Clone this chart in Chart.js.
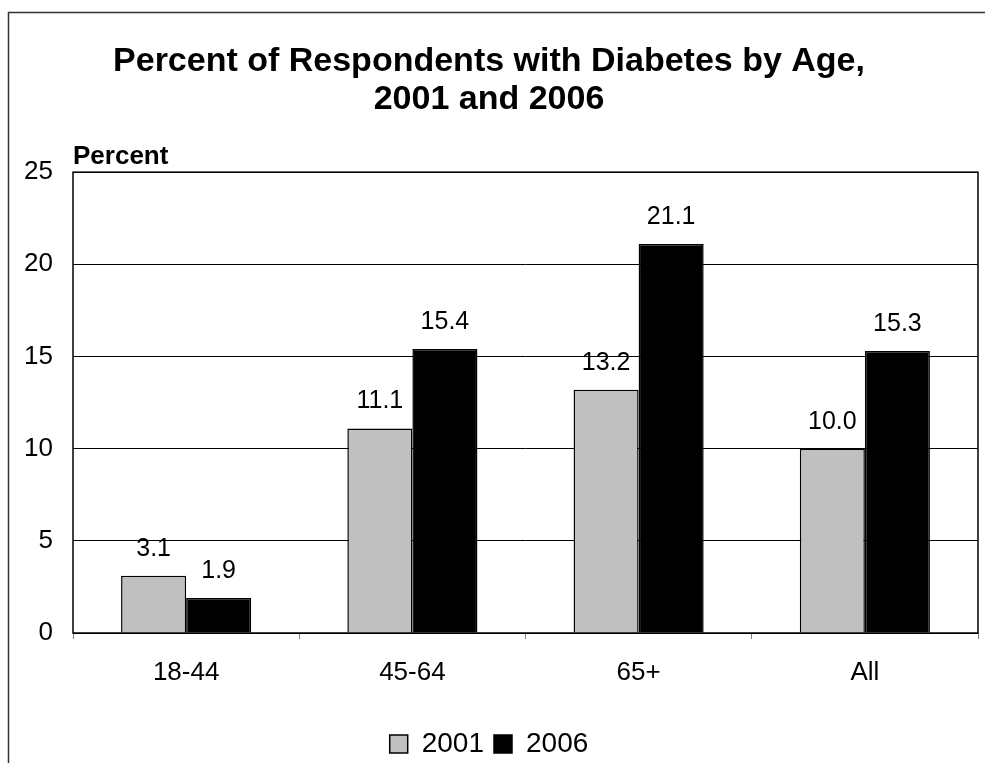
<!DOCTYPE html>
<html>
<head>
<meta charset="utf-8">
<script src="https://cdn.jsdelivr.net/npm/chart.js@4.4.1/dist/chart.umd.min.js"></script>
<style>
  body { margin: 0; background: #fff; }
  #wrap { width: 985px; height: 763px; position: relative; }
</style>
</head>
<body>
<div id="wrap"><canvas id="diabetesChart"></canvas></div>
<script>
const categories = ['18-44', '45-64', '65+', 'All'];
const values2001 = [3.1, 11.1, 13.2, 10.0];
const values2006 = [1.9, 15.4, 21.1, 15.3];
const seriesNames = ['2001', '2006'];
const titleLines = ['Percent of Respondents with Diabetes by Age,', '2001 and 2006'];
const yLabel = 'Percent';

const FONT = "'Liberation Sans', Arial, sans-serif";

// frame + plot border
const framePlugin = {
  id: 'frame',
  beforeDraw(chart) {
    const c = chart.ctx;
    c.save();
    c.fillStyle = '#fff';
    c.fillRect(0, 0, chart.width, chart.height);
    c.strokeStyle = '#333';
    c.lineWidth = 1.5;
    c.strokeRect(8.5, 12.5, chart.width + 20, chart.height + 20);
    c.restore();
  },
  afterDatasetsDraw(chart) {
    const a = chart.chartArea;
    const c = chart.ctx;
    c.save();
    c.strokeStyle = '#000';
    c.lineWidth = 1.5;
    c.strokeRect(a.left, a.top, a.right - a.left, a.bottom - a.top);
    // "Percent" label above the axis
    c.font = 'bold 26px ' + FONT;
    c.fillStyle = '#000';
    c.textAlign = 'left';
    c.textBaseline = 'alphabetic';
    c.fillText(yLabel, a.left, a.top - 8);
    c.restore();
  }
};

// value labels over bars
const valueLabels = {
  id: 'valueLabels',
  afterDatasetsDraw(chart) {
    const c = chart.ctx;
    c.save();
    c.font = '25px ' + FONT;
    c.fillStyle = '#000';
    c.textAlign = 'center';
    c.textBaseline = 'alphabetic';
    chart.data.datasets.forEach(function (ds, i) {
      chart.getDatasetMeta(i).data.forEach(function (bar, j) {
        c.fillText(ds.data[j].toFixed(1), bar.x, bar.y - 20);
      });
    });
    c.restore();
  }
};

const data = {
  labels: categories,
  datasets: [
    {
      label: seriesNames[0],
      data: values2001,
      backgroundColor: '#C0C0C0',
      borderColor: '#000',
      borderWidth: 1.5
    },
    {
      label: seriesNames[1],
      data: values2006,
      backgroundColor: '#000',
      borderColor: '#000',
      borderWidth: 1.5
    }
  ]
};

const options = {
  responsive: true,
  maintainAspectRatio: false,
  animation: false,
  layout: { padding: { left: 0, right: 7, top: 0, bottom: -5 } },
  datasets: {
    bar: { categoryPercentage: 0.575, barPercentage: 1.0 }
  },
  scales: {
    x: {
      grid: {
        offset: true,
        drawOnChartArea: false,
        drawTicks: true,
        tickLength: 6,
        color: '#808080',
        lineWidth: 1
      },
      border: { display: false },
      ticks: { font: { family: FONT, size: 26 }, color: '#000', padding: 18 },
      afterFit(scale) { scale.height = 87; }
    },
    y: {
      min: 0,
      max: 25,
      ticks: { stepSize: 5, font: { family: FONT, size: 26 }, color: '#000', padding: 20 },
      grid: { color: '#000', lineWidth: 1, drawTicks: false },
      border: { display: false },
      afterFit(scale) { scale.width = 73; }
    }
  },
  plugins: {
    title: {
      display: true,
      text: titleLines,
      color: '#000',
      font: { family: FONT, size: 34, weight: 'bold', lineHeight: 1.12 },
      padding: { top: 43, bottom: 53 }
    },
    legend: {
      position: 'bottom',
      labels: {
        boxWidth: 18,
        boxHeight: 18,
        color: '#000',
        padding: 10,
        font: { family: FONT, size: 28 }
      }
    },
    tooltip: { enabled: false }
  }
};

new Chart(document.getElementById('diabetesChart'), {
  type: 'bar',
  data: data,
  options: options,
  plugins: [framePlugin, valueLabels]
});
</script>
</body>
</html>
